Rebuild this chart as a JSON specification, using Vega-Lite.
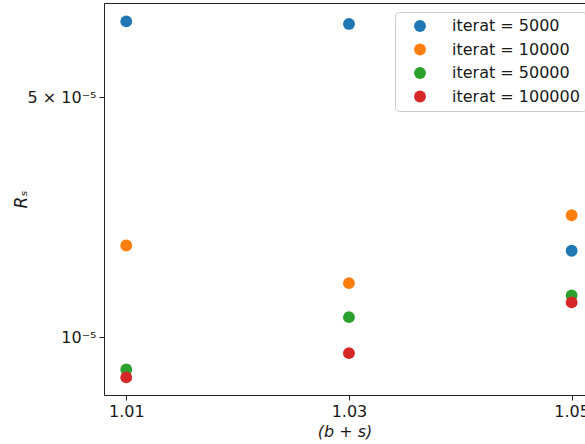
{
  "$schema": "https://vega.github.io/schema/vega-lite/v6.json",
  "width": 481,
  "height": 392,
  "autosize": {"type": "none"},
  "padding": {"left": 104, "top": 3, "right": 0, "bottom": 49},
  "background": "white",
  "config": {
    "view": {"stroke": null},
    "font": "DejaVu Sans",
    "axis": {
      "grid": false,
      "domainColor": "#222222",
      "tickColor": "#222222",
      "labelColor": "#1a1a1a",
      "titleColor": "#1a1a1a",
      "labelFontSize": 16,
      "titleFontSize": 16,
      "titleFontWeight": "normal",
      "tickSize": 5,
      "labelPadding": 3
    }
  },
  "data": {
    "values": [
      {"bs": 1.01, "Rs": 8.32e-5, "series": "iterat = 5000"},
      {"bs": 1.03, "Rs": 8.18e-5, "series": "iterat = 5000"},
      {"bs": 1.05, "Rs": 1.785e-5, "series": "iterat = 5000"},
      {"bs": 1.01, "Rs": 1.849e-5, "series": "iterat = 10000"},
      {"bs": 1.03, "Rs": 1.436e-5, "series": "iterat = 10000"},
      {"bs": 1.05, "Rs": 2.266e-5, "series": "iterat = 10000"},
      {"bs": 1.01, "Rs": 8.05e-6, "series": "iterat = 50000"},
      {"bs": 1.03, "Rs": 1.143e-5, "series": "iterat = 50000"},
      {"bs": 1.05, "Rs": 1.323e-5, "series": "iterat = 50000"},
      {"bs": 1.01, "Rs": 7.63e-6, "series": "iterat = 100000"},
      {"bs": 1.03, "Rs": 8.98e-6, "series": "iterat = 100000"},
      {"bs": 1.05, "Rs": 1.262e-5, "series": "iterat = 100000"}
    ]
  },
  "layer": [
    {
      "mark": {"type": "point", "filled": true, "size": 140, "opacity": 1},
      "encoding": {
        "x": {
          "field": "bs",
          "type": "quantitative",
          "scale": {"domain": [1.008, 1.0512], "nice": false, "zero": false},
          "axis": {"values": [1.01, 1.03, 1.05], "format": ".2f", "title": "(b + s)", "titleFontStyle": "italic", "titlePadding": 4}
        },
        "y": {
          "field": "Rs",
          "type": "quantitative",
          "scale": {"type": "log", "domain": [6.78e-6, 9.415e-5], "nice": false},
          "axis": {
            "values": [1e-5, 5e-5],
            "labelExpr": "datum.value < 2e-5 ? '10⁻⁵' : '5 × 10⁻⁵'",
            "title": "Rₛ",
            "titleFontStyle": "italic",
            "titleFontSize": 17,
            "titlePadding": -3
          }
        },
        "color": {
          "field": "series",
          "type": "nominal",
          "sort": ["iterat = 5000", "iterat = 10000", "iterat = 50000", "iterat = 100000"],
          "scale": {
            "domain": ["iterat = 5000", "iterat = 10000", "iterat = 50000", "iterat = 100000"],
            "range": ["#1f77b4", "#ff7f0e", "#2ca02c", "#d62728"]
          },
          "legend": {
            "title": null,
            "orient": "none",
            "legendX": 291,
            "legendY": 9,
            "padding": 6,
            "symbolOffset": 11,
            "symbolType": "circle",
            "symbolSize": 140,
            "symbolStrokeWidth": 0,
            "labelFontSize": 16,
            "labelColor": "#1a1a1a",
            "labelOffset": 24,
            "rowPadding": 7.5,
            "strokeColor": "#cccccc",
            "fillColor": "white",
            "cornerRadius": 4
          }
        }
      }
    },
    {
      "mark": {"type": "point", "opacity": 0},
      "encoding": {
        "x": {
          "field": "bs",
          "type": "quantitative",
          "axis": {"orient": "top", "labels": false, "ticks": false, "title": null, "domain": true}
        }
      }
    }
  ],
  "resolve": {"axis": {"x": "independent"}}
}
